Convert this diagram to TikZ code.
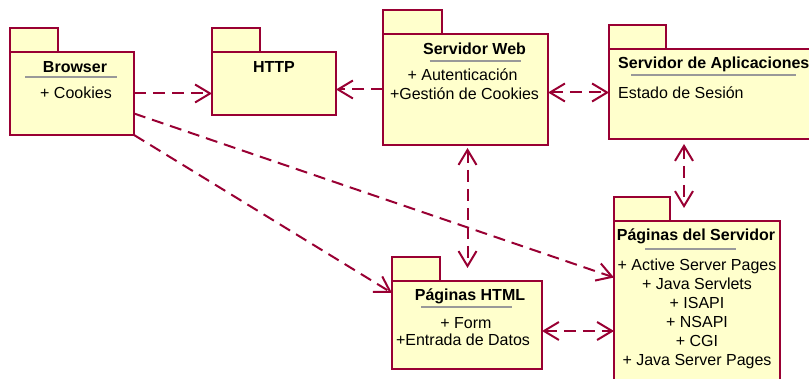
\documentclass[tikz,border=0pt]{standalone}
\usepackage{fontspec}
\setmainfont{Liberation Sans}
\usetikzlibrary{arrows.meta,calc}
\definecolor{umlred}{HTML}{990033}
\definecolor{umlfill}{HTML}{FFFFCC}
\definecolor{umlsep}{HTML}{999999}
\tikzset{
  pkg/.style={draw=umlred,fill=umlfill,line width=2pt,inner sep=0pt,outer sep=0pt,anchor=north west},
  tabbox/.style={draw=umlred,fill=umlfill,line width=2pt},
  ttl/.style={font=\bfseries\fontsize{16}{19}\selectfont,anchor=base,inner sep=0pt},
  attr/.style={font=\fontsize{16}{19}\selectfont,anchor=base,inner sep=0pt},
  sepline/.style={draw=umlsep,line width=1.8pt},
  dep/.style={draw=umlred,line width=2pt,dash pattern=on 12pt off 7pt,
    >={Straight Barb[length=15pt,width=18pt]}},
}
\begin{document}
\begin{tikzpicture}[x=1pt,y=-1pt]
    \useasboundingbox (0,0) rectangle (809,379);
    % package bodies
    \node[pkg,minimum width=124pt,minimum height=83pt] (browser) at (10,52) {};
    \node[pkg,minimum width=124pt,minimum height=63pt] (http) at (212,52) {};
    \node[pkg,minimum width=165pt,minimum height=111pt] (web) at (383,34) {};
    \node[pkg,minimum width=220pt,minimum height=90pt] (apl) at (609,49) {};
    \node[pkg,minimum width=150pt,minimum height=88pt] (html) at (392,281) {};
    \node[pkg,minimum width=166pt,minimum height=165pt] (srv) at (614,221) {};
    % tabs
    \foreach \p/\w in {browser/48,http/48,web/59,apl/57,html/48,srv/56}{
      \draw[tabbox] (\p.north west) rectangle ++(\w,-24);
    }
    % Browser
    \node[ttl] (browser-t) at ($(browser.north)+(3,21)$) {Browser};
    \draw[sepline] ($(browser.north)+(-47,25)$) -- ++(92,0);
    \node[attr] (browser-a) at ($(browser.north)+(4,47)$) {+ Cookies};
    % HTTP
    \node[ttl] (http-t) at ($(http.north)+(0,21)$) {HTTP};
    % Servidor Web
    \node[ttl] (web-t) at ($(web.north)+(9,21)$) {Servidor Web};
    \draw[sepline] ($(web.north)+(-36,27)$) -- ++(91,0);
    \node[attr] (web-a1) at ($(web.north)+(-3,47)$) {+ Autenticación};
    \node[attr] (web-a2) at ($(web.north)+(-1,66)$) {+Gestión de Cookies};
    % Servidor de Aplicaciones
    \node[ttl,anchor=base west] (apl-t) at ($(apl.north west)+(9,20)$) {Servidor de Aplicaciones};
    \draw[sepline] ($(apl.north west)+(22,26)$) -- ++(165,0);
    \node[attr,anchor=base west] (apl-a) at ($(apl.north west)+(9,50)$) {Estado de Sesión};
    % Paginas HTML
    \node[ttl] (html-t) at ($(html.north)+(3,20)$) {Páginas HTML};
    \draw[sepline] ($(html.north)+(-46,26)$) -- ++(91,0);
    \node[attr] (html-a1) at ($(html.north)+(-1,48)$) {+ Form};
    \node[attr] (html-a2) at ($(html.north)+(-4,65)$) {+Entrada de Datos};
    % Paginas del Servidor
    \node[ttl] (srv-t) at ($(srv.north)+(-1,20)$) {Páginas del Servidor};
    \draw[sepline] ($(srv.north)+(-52,28)$) -- ++(91,0);
    \foreach \t [count=\i] in {+ Active Server Pages,+ Java Servlets,+ ISAPI,+ NSAPI,+ CGI,+ Java Server Pages}{
      \node[attr] (srv-\i) at ($(srv.north)+(0,31+19*\i)$) {\t};
    }
    % dependencies
    \draw[dep,->] (browser.east) -- (browser.east -| http.west);
    \draw[dep,->] (web.west) -- (web.west -| http.east);
    \draw[dep,<->] ([yshift=-3pt]web.east) -- ([yshift=-3pt]web.east -| apl.west);
    \draw[dep,<->] ([xshift=2pt,yshift=-3pt]web.south) -- ([xshift=2pt,yshift=13pt]web.south |- html.north);
    \draw[dep,<->] ([xshift=-13pt,yshift=-5pt]srv.north |- apl.south) -- ([xshift=-13pt,yshift=13pt]srv.north);
    \draw[dep,<->] ([yshift=-6pt]html.east) -- ([yshift=-6pt]html.east -| srv.west);
    \draw[dep,->] ([yshift=-20pt]browser.east) -- ([yshift=26pt]srv.west);
    \draw[dep,->] (browser.south east) -- ([yshift=-12pt]html.north west);
\end{tikzpicture}
\end{document}
